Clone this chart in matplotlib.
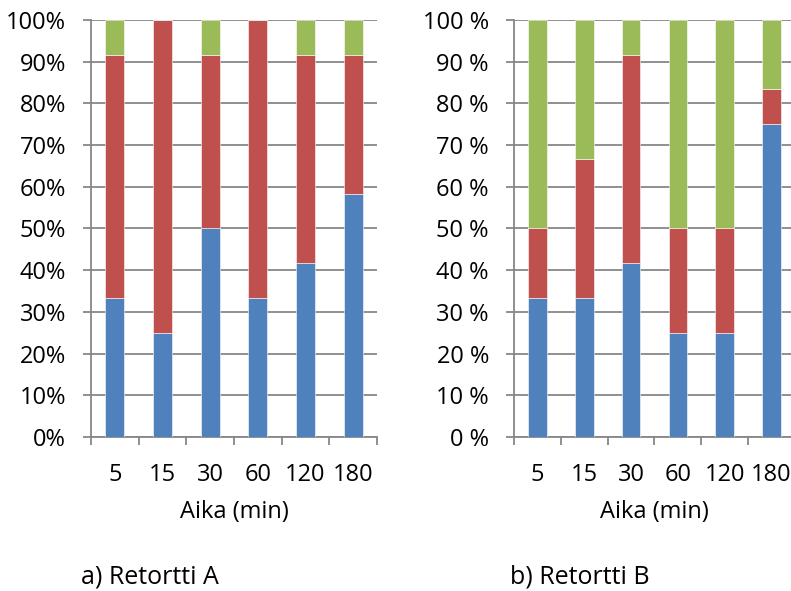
import matplotlib
matplotlib.use("Agg")
import matplotlib.pyplot as plt
import numpy as np

plt.rcParams["font.family"] = ["Open Sans", "DejaVu Sans"]

times = ["5", "15", "30", "60", "120", "180"]

# Retortti A, shares in percent
a_blue = [33.33, 25, 50, 33.33, 41.67, 58.33]
a_red = [58.34, 75, 41.67, 66.67, 50, 33.34]
a_green = [8.33, 0, 8.33, 0, 8.33, 8.33]

# Retortti B, shares in percent
b_blue = [33.33, 33.33, 41.67, 25, 25, 75]
b_red = [16.67, 33.34, 50, 25, 25, 8.33]
b_green = [50, 33.33, 8.33, 50, 50, 16.67]

y_ticks = list(range(0, 101, 10))
a_ylabels = [f"{v}%" for v in y_ticks]
b_ylabels = [f"{v} %" for v in y_ticks]

BLUE, RED, GREEN = "#4F81BD", "#C0504D", "#9BBB59"
GRID = "#878787"
FS = 17


def stacked(ax, blue, red, green, ylabels):
    x = np.arange(len(times))
    blue, red, green = map(np.array, (blue, red, green))
    kw = dict(width=0.4, edgecolor="white", linewidth=0.4, zorder=3)
    ax.bar(x, blue, color=BLUE, **kw)
    ax.bar(x, red, bottom=blue, color=RED, **kw)
    ax.bar(x, green, bottom=blue + red, color=GREEN, **kw)

    ax.set_xlim(-0.5, len(times) - 0.5)
    ax.set_ylim(0, 100)
    ax.set_yticks(y_ticks)
    ax.set_yticklabels(ylabels)
    ax.set_xticks(x)
    ax.set_xticklabels(times)
    ax.set_xticks(np.arange(-0.5, len(times)), minor=True)
    ax.tick_params(axis="x", which="major", length=0, pad=19, labelsize=FS)
    ax.tick_params(axis="x", which="minor", length=6, width=1.3, color=GRID)
    ax.tick_params(axis="y", length=6, width=1.3, color=GRID, pad=12, labelsize=FS)
    ax.grid(axis="y", color=GRID, linewidth=1.3, zorder=0)
    for side in ("top", "right"):
        ax.spines[side].set_visible(False)
    for side in ("left", "bottom"):
        ax.spines[side].set_color(GRID)
        ax.spines[side].set_linewidth(1.3)
    ax.set_xlabel("Aika (min)", fontsize=FS, labelpad=9)


fig = plt.figure(figsize=(7.91, 5.91), dpi=100)
ax1 = fig.add_axes([0.1150, 0.2606, 0.3616, 0.7056])
ax2 = fig.add_axes([0.6498, 0.2606, 0.3552, 0.7056])

stacked(ax1, a_blue, a_red, a_green, a_ylabels)
stacked(ax2, b_blue, b_red, b_green, b_ylabels)

fig.text(150 / 791, 1 - 577 / 591, "a) Retortti A", fontsize=18, ha="center", va="center")
fig.text(580 / 791, 1 - 577 / 591, "b) Retortti B", fontsize=18, ha="center", va="center")

fig.savefig("out.png", dpi=100)
